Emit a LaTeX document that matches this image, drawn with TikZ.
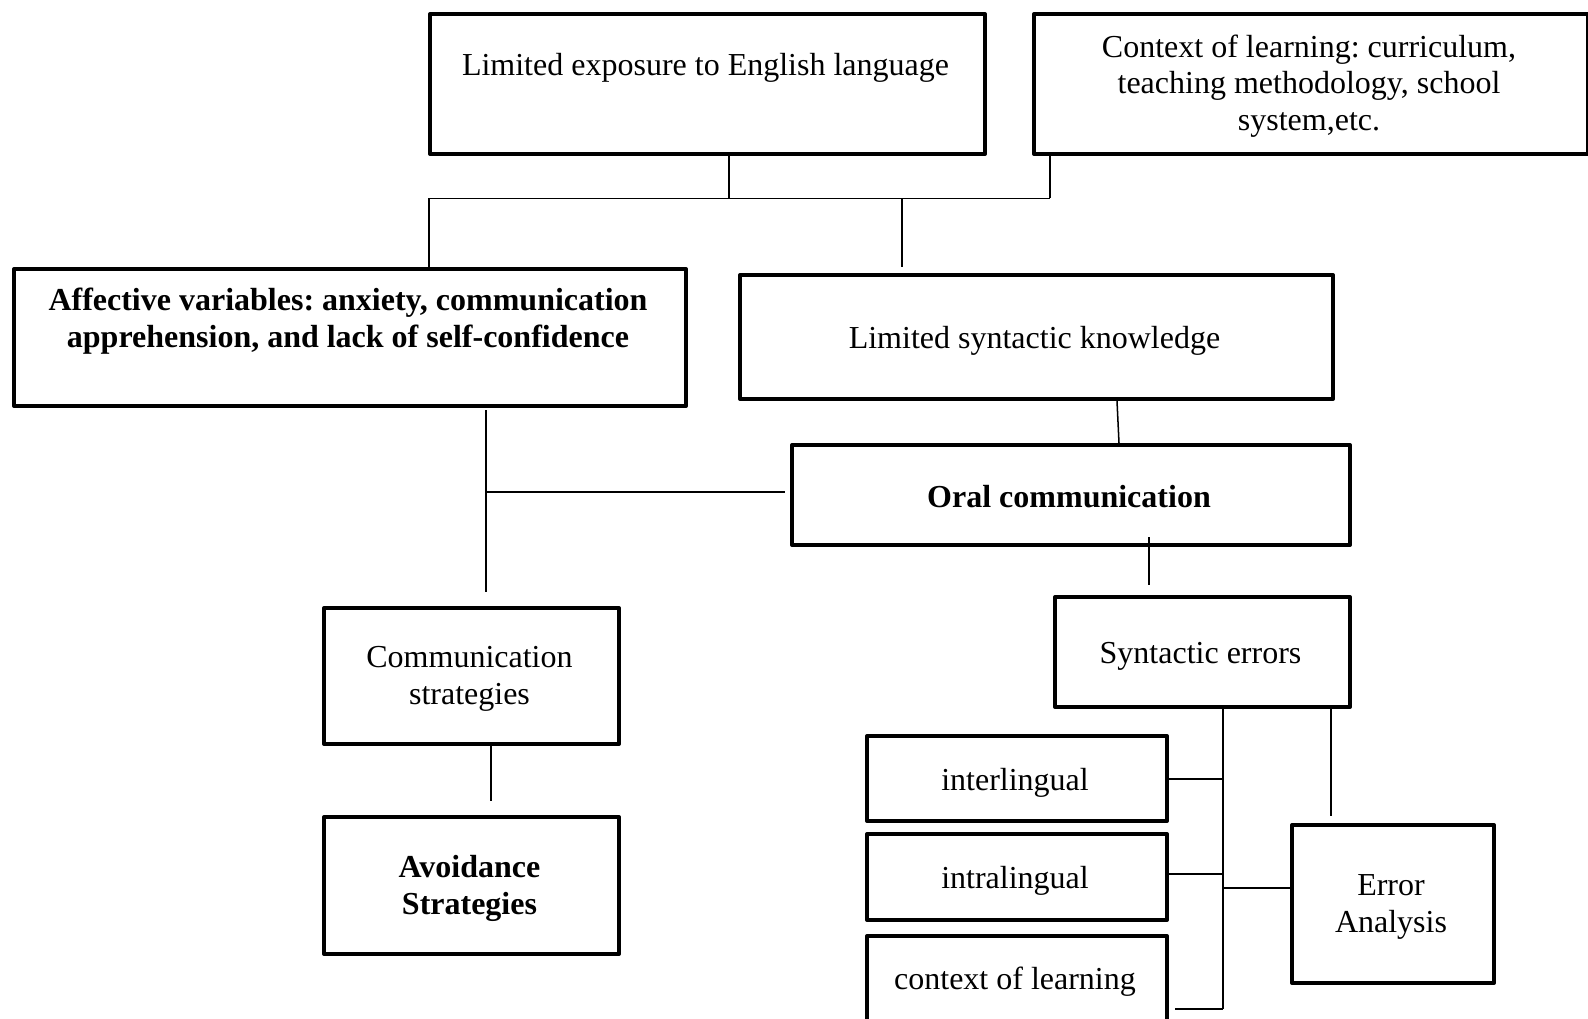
\documentclass[tikz,border=0pt]{standalone}
\usepackage{fontspec}
\setmainfont{Liberation Serif}
\frenchspacing
\begin{document}
\begin{tikzpicture}[x=1pt,y=-1pt,
  box/.style={draw, line width=4pt, line join=round, inner sep=0pt, anchor=north west},
  txt/.style={inner sep=0pt, align=center, font=\fontsize{32}{36.8}\selectfont},
  btxt/.style={txt, font=\fontsize{32}{36.8}\selectfont\bfseries},
  link/.style={line width=1.5pt}]
\useasboundingbox (0,0) rectangle (1588,1019);
\clip (0,0) rectangle (1588,1019);

% boxes
\node[box, minimum width=555pt, minimum height=140pt] (A) at (428,12) {};
\node[box, minimum width=554pt, minimum height=140pt] (B) at (1032,12) {};
\node[box, minimum width=672pt, minimum height=137pt] (C) at (12,267) {};
\node[box, minimum width=593pt, minimum height=124pt] (D) at (738,273) {};
\node[box, minimum width=558pt, minimum height=100pt] (E) at (790,443) {};
\node[box, minimum width=295pt, minimum height=136pt] (F) at (322,606) {};
\node[box, minimum width=295pt, minimum height=137pt] (G) at (322,815) {};
\node[box, minimum width=295pt, minimum height=110pt] (H) at (1053,595) {};
\node[box, minimum width=300pt, minimum height=85pt] (I) at (865,734) {};
\node[box, minimum width=300pt, minimum height=86pt] (J) at (865,832) {};
\node[box, minimum width=300pt, minimum height=92pt] (K) at (865,934) {};
\node[box, minimum width=202pt, minimum height=158pt] (L) at (1290,823) {};

% labels
\node[txt] (At) at (705.5,67.5) {Limited exposure to English language};
\node[txt] (Bt) at (1309,86) {Context of learning: curriculum,\\teaching methodology, school\\system,etc.};
\node[btxt] (Ct) at (348,321.5) {Affective variables: anxiety, communication\\apprehension, and lack of self-confidence};
\node[txt] (Dt) at (1034.5,340.5) {Limited syntactic knowledge};
\node[btxt] (Et) at (1069,497) {Oral communication};
\node[txt] (Ft) at (469.5,679) {Communication\\strategies};
\node[btxt] (Gt) at (469.5,888.5) {Avoidance\\Strategies};
\node[txt] (Ht) at (1200.5,656) {Syntactic errors};
\node[txt] (It) at (1015,782.5) {interlingual};
\node[txt] (Jt) at (1015,880.5) {intralingual};
\node[txt] (Kt) at (1015,981.5) {context of learning};
\node[txt] (Lt) at (1391,907) {Error\\Analysis};

% junction points
\coordinate (topbus) at (729,198.5);
\coordinate (topL) at (429,198.5);
\coordinate (topR) at (1050,198.5);
\coordinate (topD) at (902,198.5);
\coordinate (cTop) at (486,410);
\coordinate (cBot) at (486,592);
\coordinate (cMid) at (486,492);
\coordinate (eEnd) at (785,492);
\coordinate (fgEnd) at (491,801);
\coordinate (ehTop) at (1149,537);
\coordinate (ehEnd) at (1149,585);
\coordinate (hbus) at (1223,705);
\coordinate (hbusEnd) at (1223,1009);
\coordinate (kEnd) at (1175,1009);
\coordinate (hlEnd) at (1331,816);

% connectors
\draw[link] (A.south -| topbus) -- (topbus);
\draw[link] (B.south -| topR) -- (topR);
\draw[link] (topL) -- (topR);
\draw[link] (topL) -- (C.north -| topL);
\draw[link] (topD) -- (902,267);
\draw[link] (D.south -| 1117,0) -- (E.north -| 1119,0);
\draw[link] (cTop) -- (cBot);
\draw[link] (cMid) -- (eEnd);
\draw[link] (F.south -| fgEnd) -- (fgEnd);
\draw[link] (ehTop) -- (ehEnd);
\draw[link] (hbus) -- (hbusEnd);
\draw[link] (I.east |- 0,779) -- (hbus |- 0,779);
\draw[link] (J.east |- 0,874) -- (hbus |- 0,874);
\draw[link] (kEnd) -- (hbusEnd);
\draw[link] (hbus |- 0,888) -- (L.west |- 0,888);
\draw[link] (H.south -| hlEnd) -- (hlEnd);
\end{tikzpicture}
\end{document}
